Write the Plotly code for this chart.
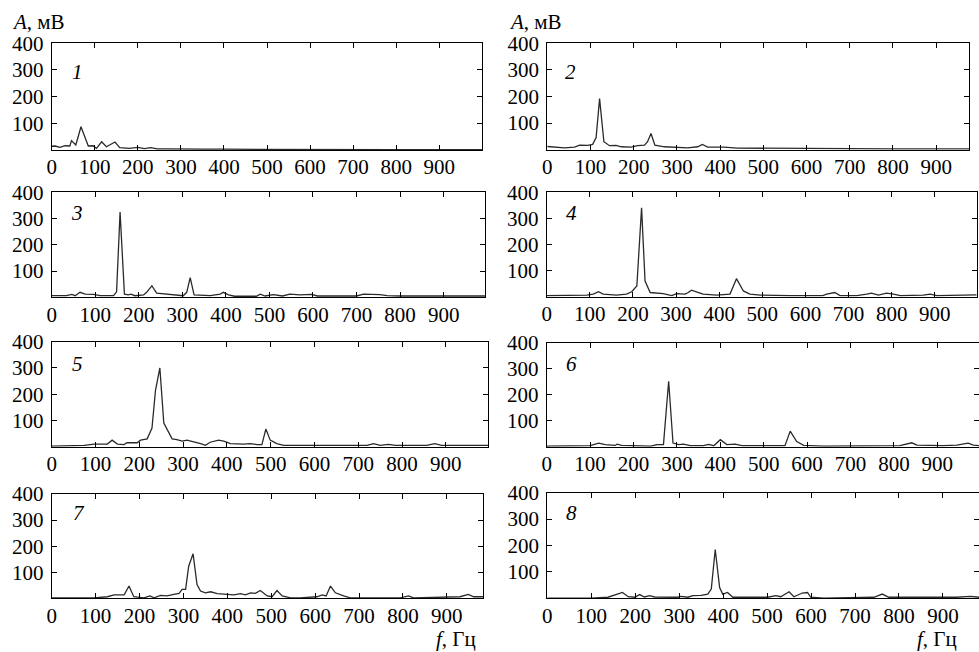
import plotly.graph_objects as go

# ---- data (frequency, Hz / amplitude, mV) ----
f1 = [0, 8, 19, 31, 42, 46, 56, 68, 85, 96, 104, 116, 127, 147, 158, 180, 200, 215, 230, 245, 270, 300, 350, 400, 500, 600, 700, 800, 900, 1000]
a1 = [14, 15, 10, 16, 15, 35, 19, 87, 15, 16, 6, 31, 12, 30, 9, 6, 10, 5, 9, 4, 4, 3, 3, 3, 2, 3, 1, 1, 1, 1]

f2 = [0, 9, 40, 63, 75, 94, 105, 113, 121, 131, 144, 159, 171, 194, 209, 225, 232, 240, 249, 271, 302, 325, 348, 359, 371, 409, 440, 500, 560, 600, 700, 800, 900, 976]
a2 = [12, 11, 7, 10, 17, 16, 20, 46, 192, 30, 15, 16, 11, 10, 15, 17, 30, 61, 17, 11, 10, 7, 11, 20, 10, 10, 6, 5, 5, 4, 4, 3, 3, 3]

f3 = [0, 34, 46, 54, 65, 77, 96, 111, 142, 149, 157, 167, 176, 182, 191, 211, 218, 230, 241, 264, 287, 302, 310, 318, 327, 364, 387, 394, 406, 420, 470, 479, 490, 509, 530, 547, 570, 597, 610, 700, 716, 730, 754, 770, 800, 900, 995]
a3 = [6, 6, 11, 6, 19, 12, 11, 6, 6, 21, 325, 12, 9, 12, 6, 9, 19, 44, 16, 12, 9, 6, 19, 75, 9, 6, 12, 19, 9, 4, 4, 12, 5, 10, 5, 12, 9, 11, 5, 5, 12, 12, 10, 6, 5, 5, 5]

f4 = [0, 62, 93, 108, 120, 131, 162, 185, 197, 209, 220, 228, 240, 270, 290, 301, 321, 328, 336, 352, 363, 394, 425, 440, 456, 471, 495, 564, 640, 649, 668, 680, 719, 742, 753, 769, 788, 804, 820, 873, 889, 905, 966, 997]
a4 = [4, 4, 6, 10, 19, 10, 6, 10, 19, 41, 341, 60, 16, 12, 4, 12, 10, 16, 25, 16, 10, 6, 10, 69, 22, 10, 6, 4, 4, 10, 16, 4, 4, 10, 14, 6, 14, 10, 4, 6, 10, 4, 6, 7]

f5 = [0, 74, 97, 127, 138, 150, 165, 172, 195, 203, 218, 229, 237, 247, 256, 264, 275, 286, 298, 309, 324, 340, 351, 362, 381, 393, 408, 438, 454, 469, 480, 489, 499, 514, 530, 598, 720, 735, 750, 769, 785, 856, 875, 890, 950, 997]
a5 = [2, 5, 10, 10, 25, 10, 8, 15, 15, 25, 30, 71, 215, 300, 90, 65, 30, 27, 21, 25, 19, 12, 5, 17, 25, 21, 12, 10, 12, 8, 8, 67, 25, 12, 5, 5, 5, 12, 5, 9, 5, 5, 12, 5, 5, 5]

f6 = [0, 100, 120, 135, 158, 162, 173, 240, 254, 269, 281, 291, 304, 315, 331, 361, 373, 385, 400, 415, 434, 450, 500, 549, 561, 576, 592, 638, 814, 841, 853, 914, 945, 971, 983, 996]
a6 = [2, 4, 14, 8, 5, 10, 5, 2, 8, 8, 252, 14, 8, 10, 4, 4, 9, 4, 27, 8, 10, 4, 4, 4, 60, 20, 5, 2, 4, 15, 6, 4, 6, 14, 6, 4]

f7 = [0, 96, 127, 142, 165, 176, 187, 210, 224, 233, 248, 263, 278, 290, 297, 305, 312, 322, 331, 339, 350, 362, 377, 400, 415, 430, 441, 453, 464, 475, 491, 502, 513, 525, 544, 566, 604, 616, 625, 635, 646, 665, 680, 794, 813, 824, 930, 949, 961, 983]
a7 = [2, 2, 6, 13, 13, 47, 6, 2, 9, 2, 11, 9, 15, 19, 34, 34, 123, 171, 53, 28, 21, 25, 18, 15, 13, 18, 13, 21, 19, 30, 9, 6, 30, 9, 2, 2, 6, 13, 9, 47, 21, 9, 2, 2, 9, 2, 6, 15, 6, 6]

f8 = [0, 100, 138, 161, 171, 184, 199, 210, 221, 233, 244, 297, 304, 320, 331, 350, 365, 373, 382, 392, 399, 410, 422, 471, 501, 520, 531, 550, 561, 580, 592, 599, 629, 743, 762, 777, 931, 962, 982]
a8 = [1, 1, 4, 16, 22, 6, 4, 14, 5, 10, 5, 4, 7, 4, 10, 11, 16, 35, 185, 41, 16, 22, 4, 4, 4, 10, 6, 25, 6, 20, 22, 4, 1, 4, 16, 4, 4, 7, 4]

panel_labels = ["1", "2", "3", "4", "5", "6", "7", "8"]
x_ticks = [0, 100, 200, 300, 400, 500, 600, 700, 800, 900]
y_ticks = [100, 200, 300, 400]
y_title = "<i>A</i>, мВ"
x_title = "<i>f</i>, Гц"

series = [(f1, a1), (f2, a2), (f3, a3), (f4, a4), (f5, a5), (f6, a6), (f7, a7), (f8, a8)]
x_max = [1000, 976, 995, 997, 997, 996, 983, 982]

# ---- layout geometry (pixels) ----
W, H = 979, 652
boxes = [  # x0, x1, ytop, ybottom
    (51.7, 482.3, 43.3, 150.0),
    (547.3, 969.0, 43.3, 149.7),
    (51.7, 485.0, 192.3, 297.3),
    (546.7, 976.7, 192.3, 296.7),
    (51.7, 488.3, 341.7, 446.7),
    (546.7, 979.0, 342.7, 446.7),
    (51.7, 483.3, 494.0, 598.3),
    (547.3, 979.0, 492.7, 598.3),
]
label_pos = [(77, 72), (570, 72), (77, 213), (571, 213), (77, 364), (571, 364), (79, 513), (571, 513)]

FONT = "Liberation Serif, Times New Roman, serif"
FS = 21

fig = go.Figure()
layout = dict(
    template="none",
    width=W, height=H,
    margin=dict(l=0, r=0, t=0, b=0, pad=0, autoexpand=False),
    paper_bgcolor="white", plot_bgcolor="white",
    showlegend=False,
    font=dict(family=FONT, size=FS, color="black"),
)
annotations = []

for i, ((fx, ay), (x0, x1, yt, yb)) in enumerate(zip(series, boxes)):
    n = i + 1
    xa = "xaxis" if n == 1 else f"xaxis{n}"
    ya = "yaxis" if n == 1 else f"yaxis{n}"
    fig.add_trace(go.Scatter(
        x=fx, y=ay, mode="lines",
        line=dict(color="#2a2a2a", width=1.3),
        xaxis="x" if n == 1 else f"x{n}",
        yaxis="y" if n == 1 else f"y{n}",
        hoverinfo="skip",
    ))
    common = dict(
        showline=True, linecolor="black", linewidth=1, mirror="ticks",
        ticks="inside", ticklen=5, tickwidth=1, tickcolor="black",
        showgrid=False, zeroline=False, automargin=False,
        tickfont=dict(family=FONT, size=FS, color="black"),
    )
    layout[xa] = dict(
        domain=[x0 / W, x1 / W], range=[0, x_max[i]],
        tickvals=x_ticks, ticktext=[str(v) for v in x_ticks],
        anchor="y" if n == 1 else f"y{n}",
        ticklabelstandoff=-2,
        **common,
    )
    layout[ya] = dict(
        domain=[1 - yb / H, 1 - yt / H], range=[0, 400],
        tickvals=y_ticks, ticktext=[str(v) for v in y_ticks],
        anchor="x" if n == 1 else f"x{n}",
        ticklabelstandoff=3,
        **common,
    )
    lx, ly = label_pos[i]
    annotations.append(dict(
        text=f"<i>{panel_labels[i]}</i>", x=lx / W, y=1 - ly / H,
        xref="paper", yref="paper", xanchor="center", yanchor="middle",
        showarrow=False, font=dict(family=FONT, size=FS, color="black"),
    ))

for xl in (10, 507):
    annotations.append(dict(
        text=y_title, x=xl / W, y=1 - 22 / H, xref="paper", yref="paper",
        xanchor="left", yanchor="middle", showarrow=False,
        font=dict(family=FONT, size=FS, color="black"),
    ))
for xr in (478, 959):
    annotations.append(dict(
        text=x_title, x=xr / W, y=1 - 639 / H, xref="paper", yref="paper",
        xanchor="right", yanchor="middle", showarrow=False,
        font=dict(family=FONT, size=FS, color="black"),
    ))

layout["annotations"] = annotations
fig.update_layout(**layout)
fig.write_html(
    "out.html",
    config={"displayModeBar": False, "staticPlot": True},
    post_script="document.body.style.margin='0';document.body.style.overflow='hidden';",
)
